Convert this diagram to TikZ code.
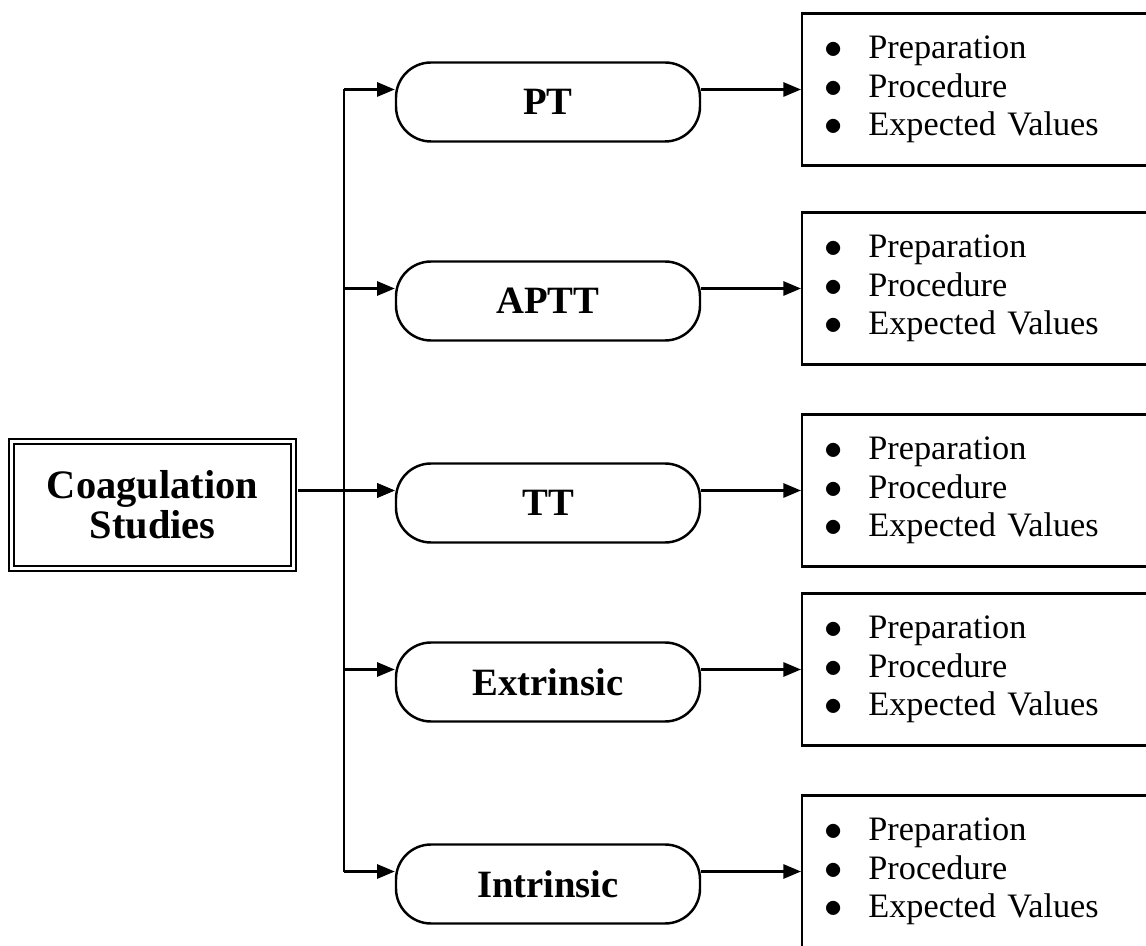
\documentclass[tikz,border=0pt]{standalone}
\usepackage{fontspec}
\setmainfont{Liberation Serif}
\usetikzlibrary{arrows.meta, positioning}
\tikzset{
	arr/.style={line width=1.4pt, -{Triangle[length=10pt, width=8pt]}},
	trunk/.style={line width=1.4pt},
	coagbox/.style={draw, double, line width=1.2pt, double distance=1.6pt, minimum width=5.64cm, minimum height=2.54cm, align=center, font=\fontsize{23}{23}\selectfont\bfseries},
	testbox/.style={draw, line width=1.4pt, rounded corners=0.7cm, minimum width=6.08cm, minimum height=1.58cm, font=\fontsize{22}{25}\selectfont\bfseries},
	listbox/.style={draw, line width=1.4pt, text width=6.54cm, inner xsep=0.48cm, minimum height=3.04cm, align=left, font=\fontsize{19.5}{22}\selectfont}
}
\newcommand{\bul}{\makebox[24pt][l]{\hspace{-1pt}$\bullet$}}
\newcommand{\itemlist}{\bul Preparation\\\bul Procedure\\\bul Expected Values}

\begin{document}
\begin{tikzpicture}
			\useasboundingbox (0,0) rectangle (22.92,18.9);
			\clip (0,0) rectangle (22.92,18.9);
			
			% --- Root ---
			\node[coagbox] (coag) at (3.05, 8.8) {Coagulation\\Studies};
			
			% --- Tests and their lists ---
			\foreach \n/\t/\y in {pt/PT/16.86, aptt/APTT/12.88, tt/TT/8.84, ext/Extrinsic/5.26, intr/Intrinsic/1.22} {
				\node[testbox] (\n) at (10.96, \y) {\t};
				\node[listbox, anchor=west] (list\n) at (16.02, \y+0.25) {\itemlist};
				\coordinate (in\n) at (6.88, \y+0.25);
				\draw[arr] (in\n) -- (in\n -| \n.west);
				\draw[arr] (list\n.west -| \n.east) -- (list\n.west);
			}
			
			% Trunk line
			\draw[trunk] (inpt) -- (inintr);
			\draw[arr, shorten <=2pt] (coag.east |- intt) -- (intt -| tt.west);
			
		\end{tikzpicture}
\end{document}
